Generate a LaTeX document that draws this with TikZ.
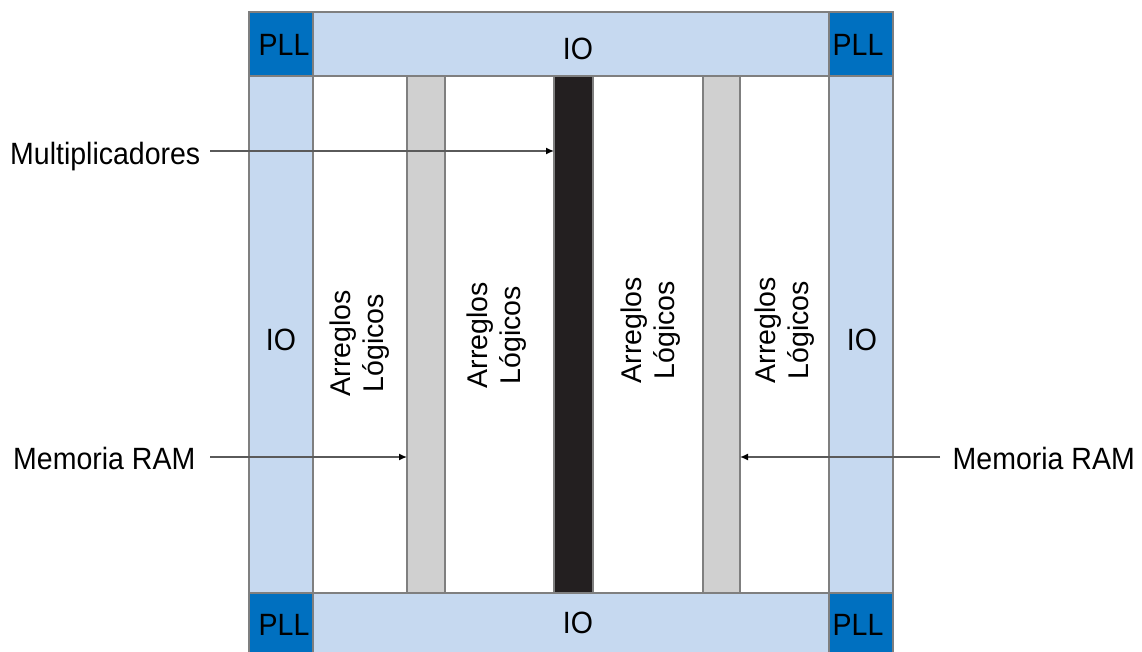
\documentclass[tikz,border=0pt]{standalone}
\usepackage{graphicx}
\usepackage{fontspec}
\setmainfont{Liberation Sans}
\usetikzlibrary{arrows.meta}
\definecolor{lblue}{HTML}{C6D9F0}
\definecolor{dblue}{HTML}{0070C0}
\definecolor{gcol}{HTML}{D0D0D0}
\definecolor{edgec}{HTML}{7F7F7F}
\definecolor{blkc}{HTML}{231F20}
\definecolor{linec}{HTML}{5A5A5A}
\newcommand{\vstretch}[1]{\scalebox{1}[1.08]{#1}}
\begin{document}
\begin{tikzpicture}[x=1pt,y=-1pt,
  font=\fontsize{28.5}{33}\selectfont,
  box/.style={draw=edgec, line width=1.6pt, rectangle, inner sep=0pt, outer sep=0pt},
  iobox/.style={box, fill=lblue},
  pllbox/.style={box, fill=dblue, minimum width=64pt, minimum height=64pt},
  vcol/.style={box, minimum height=517pt},
  txt/.style={inner sep=0pt, anchor=base},
  rot/.style={inner sep=0pt, rotate=90, align=center},
  arr/.style={draw=linec, line width=1.4pt, -{Latex[length=8pt,width=7pt,color=black]}}
]
\useasboundingbox (0,0) rectangle (1142,652);
\clip (0,0) rectangle (1142,652);
% white core
\fill[white] (0,0) rectangle (1142,652);
% IO bars
\node[iobox, minimum width=516pt, minimum height=64pt] (iot) at (571,44) {};
\node[iobox, minimum width=516pt, minimum height=64pt] (iob) at (571,625) {};
\node[iobox, minimum width=64pt, minimum height=517pt] (iol) at (281,334.5) {};
\node[iobox, minimum width=64pt, minimum height=517pt] (ior) at (861,334.5) {};
% PLL corners
\node[pllbox] (plltl) at (281,44) {};
\node[pllbox] (plltr) at (861,44) {};
\node[pllbox] (pllbl) at (281,625) {};
\node[pllbox] (pllbr) at (861,625) {};
% columns
\node[vcol, fill=gcol, minimum width=38pt] (ram1) at (426,334.5) {};
\node[vcol, fill=blkc, minimum width=39pt] (mul) at (573.5,334.5) {};
\node[vcol, fill=gcol, minimum width=37pt] (ram2) at (721.5,334.5) {};
% texts in boxes
\node[txt] (tplltl) at (284,56) {\vstretch{PLL}};
\node[txt] (tplltr) at (858,56) {\vstretch{PLL}};
\node[txt] (tpllbl) at (284,635) {\vstretch{PLL}};
\node[txt] (tpllbr) at (858,635) {\vstretch{PLL}};
\node[txt] (tiot) at (578,60) {\vstretch{IO}};
\node[txt] (tiob) at (578,633) {\vstretch{IO}};
\node[txt] (tiol) at (281,350) {\vstretch{IO}};
\node[txt] (tior) at (862,350) {\vstretch{IO}};
% logic arrays
\node[rot] (la1) at (360,343) {Arreglos\\Lógicos};
\node[rot] (la2) at (497,335) {Arreglos\\Lógicos};
\node[rot] (la3) at (651,330) {Arreglos\\Lógicos};
\node[rot] (la4) at (785,330) {Arreglos\\Lógicos};
% outside labels
\node[inner sep=0pt, anchor=base west] (lmul) at (10,165) {\vstretch{Multiplicadores}};
\node[inner sep=0pt, anchor=base west] (lram1) at (13,469) {\vstretch{Memoria RAM}};
\node[inner sep=0pt, anchor=base east] (lram2) at (1135,469) {\vstretch{Memoria RAM}};
\coordinate (amul) at (210,151);
\coordinate (aram1) at (210,457);
\coordinate (aram2) at (940,457);
\draw[arr] (amul) -- (amul -| mul.west);
\draw[arr] (aram1) -- (aram1 -| ram1.west);
\draw[arr] (aram2) -- (aram2 -| ram2.east);
\end{tikzpicture}
\end{document}
